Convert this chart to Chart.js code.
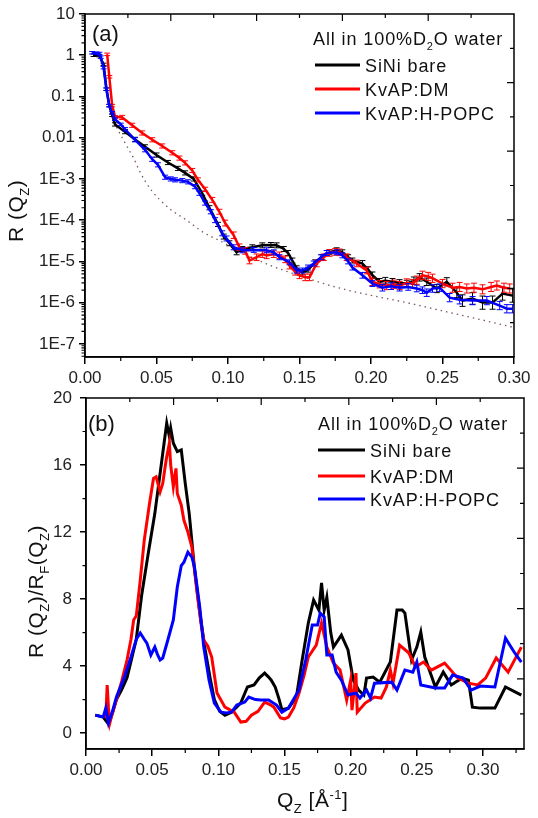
<!DOCTYPE html>
<html>
<head>
<meta charset="utf-8">
<script src="https://cdn.jsdelivr.net/npm/chart.js@4.4.1/dist/chart.umd.min.js"></script>
<style>
  html, body { margin: 0; padding: 0; background: #fff; }
  #wrap { position: relative; width: 538px; height: 818px; overflow: hidden; }
  canvas { position: absolute; left: 0; }
  #chartA { top: 0; }
  #chartB { top: 380px; }
</style>
</head>
<body>
<div id="wrap">
  <canvas id="chartA" width="538" height="392"></canvas>
  <canvas id="chartB" width="538" height="438"></canvas>
</div>
<script>
// ---- panel (a): R(Qz), log scale, with error bars (half length in decades) ----
const qBareA = [0.006,0.010,0.013,0.015,0.017,0.019,0.021,0.028,0.035,0.042,0.050,0.058,0.065,0.070,0.076,0.082,0.087,0.093,0.097,0.101,0.106,0.110,0.117,0.124,0.130,0.134,0.139,0.142,0.145,0.148,0.152,0.156,0.161,0.166,0.171,0.176,0.180,0.184,0.187,0.194,0.198,0.201,0.206,0.210,0.215,0.220,0.225,0.230,0.234,0.239,0.246,0.253,0.260,0.264,0.271,0.278,0.285,0.292,0.299];
const rBareA = [1.0,0.98,0.6,0.15,0.06,0.035,0.021,0.014,0.0091,0.0060,0.0038,0.0025,0.0018,0.0014,0.0010,4.5e-4,2.0e-4,7.9e-5,4.0e-5,2.75e-5,1.66e-5,2.0e-5,2.2e-5,2.45e-5,2.5e-5,2.45e-5,2.0e-5,1.6e-5,1.05e-5,6.8e-6,5.4e-6,6.3e-6,9.5e-6,1.26e-5,1.66e-5,1.86e-5,1.66e-5,1.26e-5,1.05e-5,8.9e-6,6.3e-6,4.6e-6,3.2e-6,3.4e-6,3.2e-6,3.0e-6,2.9e-6,3.4e-6,4.1e-6,3.2e-6,2.2e-6,3.2e-6,1.74e-6,1.12e-6,1.26e-6,1.0e-6,1.0e-6,1.66e-6,1.48e-6];
const eBareA = [0.03,0.03,0.03,0.03,0.03,0.03,0.04,0.05,0.05,0.05,0.05,0.05,0.05,0.05,0.05,0.05,0.05,0.05,0.06,0.06,0.06,0.06,0.06,0.06,0.06,0.06,0.06,0.06,0.06,0.06,0.06,0.06,0.06,0.06,0.06,0.06,0.06,0.06,0.06,0.07,0.07,0.08,0.08,0.08,0.08,0.08,0.08,0.09,0.09,0.09,0.1,0.1,0.12,0.14,0.14,0.16,0.16,0.16,0.16];

const qDmA = [0.0155,0.017,0.019,0.021,0.026,0.033,0.040,0.047,0.054,0.061,0.066,0.070,0.075,0.079,0.084,0.089,0.094,0.098,0.104,0.108,0.112,0.115,0.120,0.124,0.127,0.132,0.136,0.140,0.143,0.147,0.150,0.154,0.157,0.162,0.167,0.171,0.175,0.178,0.183,0.190,0.197,0.201,0.206,0.211,0.216,0.220,0.225,0.229,0.232,0.236,0.240,0.243,0.250,0.257,0.262,0.267,0.272,0.278,0.284,0.288,0.293,0.297];
const rDmA = [1.05,0.3,0.06,0.032,0.031,0.020,0.013,8.9e-3,6.3e-3,4.3e-3,3.2e-3,2.45e-3,1.6e-3,9.5e-4,5.6e-4,3.1e-4,1.6e-4,8.5e-5,4.3e-5,2.2e-5,1.8e-5,1.05e-5,1.26e-5,1.5e-5,1.4e-5,1.5e-5,1.4e-5,1.12e-5,7.9e-6,5.6e-6,4.6e-6,4.1e-6,4.1e-6,8.9e-6,1.26e-5,1.6e-5,1.7e-5,1.66e-5,1.26e-5,8.9e-6,6.0e-6,3.2e-6,2.8e-6,2.6e-6,2.8e-6,2.6e-6,3.0e-6,2.9e-6,3.5e-6,4.6e-6,4.3e-6,3.9e-6,2.9e-6,2.3e-6,2.4e-6,2.2e-6,2.3e-6,2.1e-6,2.4e-6,2.6e-6,2.3e-6,2.2e-6];
const eDmA = [0.03,0.03,0.03,0.03,0.05,0.05,0.05,0.05,0.05,0.05,0.05,0.05,0.05,0.05,0.05,0.06,0.06,0.07,0.08,0.08,0.08,0.08,0.08,0.08,0.08,0.08,0.08,0.08,0.08,0.08,0.08,0.08,0.08,0.08,0.08,0.08,0.08,0.08,0.08,0.08,0.08,0.09,0.09,0.1,0.1,0.1,0.1,0.1,0.1,0.1,0.1,0.1,0.1,0.11,0.11,0.11,0.11,0.11,0.11,0.11,0.11,0.11];

const qPopcA = [0.005,0.008,0.010,0.011,0.013,0.015,0.017,0.019,0.021,0.025,0.028,0.035,0.042,0.047,0.051,0.056,0.060,0.063,0.068,0.072,0.077,0.080,0.084,0.088,0.091,0.096,0.099,0.104,0.110,0.118,0.127,0.132,0.136,0.143,0.148,0.152,0.156,0.160,0.165,0.169,0.176,0.180,0.184,0.187,0.194,0.201,0.208,0.214,0.220,0.226,0.232,0.236,0.239,0.243,0.248,0.255,0.262,0.271,0.281,0.290,0.295,0.299];
const rPopcA = [1.15,1.12,1.1,0.9,0.5,0.15,0.06,0.04,0.028,0.021,0.016,8.9e-3,5.1e-3,3.0e-3,2.2e-3,1.1e-3,1.0e-3,9.5e-4,9.1e-4,8.5e-4,6.5e-4,4.5e-4,2.6e-4,1.6e-4,1.0e-4,4.8e-5,3.6e-5,2.2e-5,1.86e-5,1.9e-5,1.86e-5,1.66e-5,1.26e-5,9.5e-6,6.0e-6,6.0e-6,7.1e-6,8.9e-6,1.26e-5,1.6e-5,1.66e-5,1.4e-5,1.0e-5,7.1e-6,4.6e-6,2.9e-6,2.3e-6,2.5e-6,2.3e-6,2.4e-6,2.2e-6,2.0e-6,1.74e-6,2.2e-6,2.3e-6,1.32e-6,1.17e-6,1.12e-6,1.12e-6,8.5e-7,7.1e-7,7.1e-7];
const ePopcA = [0.03,0.03,0.03,0.03,0.03,0.03,0.03,0.03,0.03,0.03,0.04,0.05,0.05,0.05,0.05,0.05,0.05,0.05,0.05,0.05,0.05,0.05,0.05,0.05,0.06,0.06,0.06,0.06,0.06,0.06,0.06,0.06,0.06,0.06,0.06,0.06,0.06,0.06,0.06,0.06,0.06,0.06,0.06,0.06,0.07,0.07,0.08,0.08,0.08,0.08,0.08,0.08,0.09,0.09,0.09,0.1,0.1,0.1,0.1,0.1,0.1,0.1];

// Fresnel reflectivity (dotted)
const qFresA = [0.022,0.026,0.030,0.034,0.038,0.042,0.047,0.052,0.060,0.071,0.083,0.094,0.110,0.130,0.150,0.175,0.200,0.225,0.250,0.275,0.300];
const rFresA = [1.8e-2,1.0e-2,5.6e-3,3.2e-3,1.6e-3,8.9e-4,5.0e-4,3.2e-4,1.8e-4,1.0e-4,5.0e-5,3.2e-5,1.6e-5,7.9e-6,4.5e-6,2.4e-6,1.5e-6,1.0e-6,6.3e-7,4.0e-7,2.5e-7];

const xTicksA = [0, 0.05, 0.10, 0.15, 0.20, 0.25, 0.30];
const yTicksA = [1e-7, 1e-6, 1e-5, 1e-4, 1e-3, 0.01, 0.1, 1, 10];
const yTickLabelsA = ['1E-7', '1E-6', '1E-5', '1E-4', '1E-3', '0.01', '0.1', '1', '10'];

// ---- panel (b): R(Qz)/RF(Qz), linear ----
const qBareB = [0.007,0.013,0.017,0.020,0.023,0.027,0.031,0.035,0.038,0.042,0.047,0.052,0.056,0.059,0.061,0.063,0.064,0.066,0.069,0.072,0.075,0.078,0.082,0.086,0.090,0.094,0.097,0.101,0.105,0.110,0.117,0.122,0.127,0.131,0.135,0.138,0.140,0.143,0.146,0.148,0.153,0.159,0.163,0.168,0.172,0.176,0.178,0.180,0.182,0.185,0.187,0.193,0.198,0.202,0.206,0.210,0.212,0.217,0.222,0.230,0.235,0.239,0.241,0.246,0.250,0.253,0.256,0.264,0.270,0.276,0.284,0.289,0.292,0.298,0.309,0.317,0.329];
const vBareB = [1.07,0.96,0.54,1.2,2.0,2.6,3.3,4.6,5.6,8.2,10.7,13.1,15.5,17.3,18.5,17.7,18.2,17.3,16.8,16.9,14.9,13.1,9.8,7.2,5.0,3.2,2.0,1.3,1.07,1.25,1.8,2.75,2.87,3.3,3.58,3.34,3.16,2.75,2.0,1.4,1.49,2.15,4.18,6.57,7.94,7.34,8.96,7.34,8.1,5.97,5.13,5.85,4.96,3.16,2.57,2.27,3.28,3.34,3.04,4.24,7.34,7.34,7.16,4.36,5.13,6.03,4.54,2.75,3.64,2.87,3.28,3.16,1.55,1.49,1.49,2.75,2.27];

const qDmB = [0.013,0.015,0.016,0.017,0.018,0.020,0.023,0.027,0.031,0.034,0.036,0.038,0.041,0.044,0.048,0.051,0.053,0.056,0.058,0.060,0.061,0.063,0.064,0.066,0.068,0.069,0.072,0.074,0.077,0.080,0.084,0.087,0.089,0.092,0.095,0.099,0.105,0.112,0.117,0.121,0.125,0.130,0.135,0.139,0.142,0.147,0.150,0.153,0.157,0.161,0.165,0.168,0.174,0.178,0.182,0.187,0.192,0.197,0.200,0.201,0.204,0.205,0.211,0.218,0.223,0.227,0.230,0.232,0.237,0.244,0.249,0.255,0.261,0.271,0.281,0.289,0.296,0.302,0.310,0.319,0.329];
const vDmB = [1.0,1.0,2.87,1.5,0.6,1.2,2.0,3.1,4.36,5.6,6.75,7.0,9.13,11.5,13.7,15.2,15.3,14.4,14.9,16.0,16.5,17.3,16.0,14.7,15.8,14.3,13.6,12.7,12.0,11.1,8.36,6.5,5.55,5.2,4.54,2.39,1.55,1.25,0.66,0.7,1.07,1.3,1.85,1.7,1.55,0.9,0.85,0.96,1.5,2.39,3.5,4.54,5.25,6.57,5.13,4.18,3.76,1.97,3.16,1.37,3.58,1.25,1.79,2.15,2.09,2.75,3.76,2.98,5.25,4.78,3.94,4.24,3.76,4.18,3.28,2.98,2.87,3.28,4.48,3.64,5.13];

const qPopcB = [0.007,0.013,0.015,0.017,0.020,0.023,0.029,0.034,0.038,0.041,0.044,0.046,0.049,0.052,0.054,0.056,0.058,0.062,0.066,0.069,0.072,0.074,0.077,0.080,0.082,0.086,0.089,0.093,0.097,0.102,0.106,0.110,0.114,0.120,0.123,0.128,0.132,0.138,0.144,0.148,0.153,0.161,0.166,0.171,0.175,0.177,0.180,0.182,0.186,0.189,0.193,0.198,0.204,0.207,0.212,0.215,0.218,0.231,0.235,0.241,0.247,0.250,0.253,0.264,0.271,0.277,0.285,0.291,0.298,0.309,0.317,0.324,0.329];
const vPopcB = [1.07,0.96,1.49,0.6,1.3,2.15,3.34,4.54,5.6,5.97,5.6,5.37,4.66,5.13,4.7,4.36,4.48,5.6,6.75,8.72,10.0,10.2,10.8,10.5,9.9,7.5,5.13,3.16,1.79,1.25,1.2,1.25,1.67,1.85,2.15,2.0,1.97,1.97,1.67,1.25,1.49,2.57,4.36,6.45,6.45,7.16,6.93,4.66,4.66,3.64,3.16,2.27,2.39,2.09,2.57,2.09,2.98,3.04,2.57,3.76,3.64,4.24,2.87,2.69,2.69,3.46,3.28,2.57,2.81,2.75,5.67,4.78,4.24];

const xTicksB = [0, 0.05, 0.10, 0.15, 0.20, 0.25, 0.30];
const yTicksB = [0, 4, 8, 12, 16, 20];

const seriesNames = ['SiNi bare', 'KvAP:DM', 'KvAP:H-POPC'];
const seriesColors = ['#000000', '#ff0000', '#0000ff'];

const FONT = '"Liberation Sans", Arial, sans-serif';

function pts(q, v) {
  return q.map((x, i) => ({ x: x, y: v[i] }));
}

// draw text made of pieces: [text, 0 normal | 1 subscript | 2 superscript]
function drawRich(ctx, parts, x, y, size, spacing) {
  let cx = x;
  ctx.letterSpacing = (spacing || 0) + 'px';
  parts.forEach(([t, m]) => {
    const fs = m ? Math.round(size * 0.62) : size;
    ctx.font = fs + 'px ' + FONT;
    const dy = m === 1 ? size * 0.3 : (m === 2 ? -size * 0.4 : 0);
    ctx.fillText(t, cx, y + dy);
    cx += ctx.measureText(t).width;
  });
  ctx.letterSpacing = '0px';
  return cx - x;
}

const deco = {
  id: 'deco',
  afterDatasetDraw(chart, args) {
    const ds = chart.data.datasets[args.index];
    if (!ds.errLog) return;
    const { ctx, chartArea: a } = chart;
    const ys = chart.scales.y;
    ctx.save();
    ctx.beginPath();
    ctx.rect(a.left, a.top, a.right - a.left, a.bottom - a.top);
    ctx.clip();
    ctx.strokeStyle = ds.borderColor;
    ctx.lineWidth = 1;
    ctx.beginPath();
    args.meta.data.forEach((el, i) => {
      const v = ds.data[i].y, e = ds.errLog[i];
      const y1 = ys.getPixelForValue(v * Math.pow(10, e));
      const y2 = ys.getPixelForValue(v / Math.pow(10, e));
      ctx.moveTo(el.x, y1); ctx.lineTo(el.x, y2);
      ctx.moveTo(el.x - 3, y1); ctx.lineTo(el.x + 3, y1);
      ctx.moveTo(el.x - 3, y2); ctx.lineTo(el.x + 3, y2);
    });
    ctx.stroke();
    ctx.restore();
  },
  afterDraw(chart, args, o) {
    const { ctx, chartArea: a, scales } = chart;
    ctx.save();
    // frame
    ctx.strokeStyle = '#000';
    ctx.lineWidth = 1.5;
    ctx.strokeRect(a.left, a.top, a.right - a.left, a.bottom - a.top);
    // minor ticks (outside), inner ticks on top and right
    ctx.lineWidth = 1.2;
    ctx.beginPath();
    o.minorX.forEach(v => {
      const x = scales.x.getPixelForValue(v);
      ctx.moveTo(x, a.bottom); ctx.lineTo(x, a.bottom + 4);
    });
    o.minorY.forEach(v => {
      const y = scales.y.getPixelForValue(v);
      ctx.moveTo(a.left, y); ctx.lineTo(a.left - 3.5, y);
    });
    for (let i = 1; i < 10; i++) {
      const len = i % 2 ? 4 : 7;
      const x = scales.x2.getPixelForValue(i);
      ctx.moveTo(x, a.top); ctx.lineTo(x, a.top + len);
      const y = scales.y2.getPixelForValue(i);
      ctx.moveTo(a.right, y); ctx.lineTo(a.right - len, y);
    }
    ctx.stroke();

    ctx.fillStyle = '#111';
    ctx.textAlign = 'left';
    ctx.textBaseline = 'alphabetic';
    // panel letter
    drawRich(ctx, [[o.panel, 0]], o.panelX, o.panelY, 22);
    // legend
    drawRich(ctx, [['All in 100%D', 0], ['2', 1], ['O water', 0]], o.legX, o.legY, 18, 0.9);
    seriesNames.forEach((name, i) => {
      const y = o.legLines[i];
      ctx.strokeStyle = seriesColors[i];
      ctx.lineWidth = 3;
      ctx.beginPath();
      ctx.moveTo(o.legLineX[0], y); ctx.lineTo(o.legLineX[1], y);
      ctx.stroke();
      drawRich(ctx, [[name, 0]], o.legLineX[1] + 5, y + 7, 18, 0.9);
    });
    // y axis title
    ctx.save();
    ctx.translate(o.yTitle[0], o.yTitle[1]);
    ctx.rotate(-Math.PI / 2);
    drawRich(ctx, o.yTitleParts, 0, 0, 21, 0.5);
    ctx.restore();
    // x axis title
    if (o.xTitleParts) drawRich(ctx, o.xTitleParts, o.xTitle[0], o.xTitle[1], 21, 0.5);
    ctx.restore();
  }
};

const tickFont = { family: FONT, size: 17 };

function xAxis(max, ticksArr, h) {
  return {
    type: 'linear', position: 'bottom', min: 0, max: max,
    afterBuildTicks: s => { s.ticks = ticksArr.map(v => ({ value: v })); },
    afterFit: s => { s.height = h; s.paddingLeft = 0; s.paddingRight = 0; },
    ticks: { callback: v => v.toFixed(2), font: tickFont, color: '#222', padding: 4, maxRotation: 0, autoSkip: false },
    grid: { drawOnChartArea: false, tickLength: 7, color: '#000', lineWidth: 1.5 },
    border: { display: true, color: '#000', width: 1.5 }
  };
}

// minor ticks on the log axis: 2..9 in each decade
const minorYA = [];
for (let d = -8; d <= 0; d++) {
  for (let m = 2; m <= 9; m++) {
    const v = m * Math.pow(10, d);
    if (v > 4.8e-8 && v < 10) minorYA.push(v);
  }
}

new Chart(document.getElementById('chartA'), {
  type: 'line',
  data: {
    datasets: [
      { label: seriesNames[2], data: pts(qPopcA, rPopcA), errLog: ePopcA, borderColor: seriesColors[2], borderWidth: 2.5, pointRadius: 0, tension: 0 },
      { label: seriesNames[1], data: pts(qDmA, rDmA), errLog: eDmA, borderColor: seriesColors[1], borderWidth: 2.5, pointRadius: 0, tension: 0 },
      { label: seriesNames[0], data: pts(qBareA, rBareA), errLog: eBareA, borderColor: seriesColors[0], borderWidth: 2.5, pointRadius: 0, tension: 0 },
      { label: 'Fresnel', data: pts(qFresA, rFresA), borderColor: '#7a5a5a', borderWidth: 1.3, borderDash: [1.5, 4], pointRadius: 0, cubicInterpolationMode: 'monotone' }
    ]
  },
  options: {
    responsive: false,
    animation: false,
    parsing: false,
    layout: { padding: { left: 0, top: 14, right: 24, bottom: 0 } },
    plugins: {
      legend: { display: false },
      tooltip: { enabled: false },
      deco: {
        panel: '(a)', panelX: 92, panelY: 41,
        legX: 313, legY: 45, legLines: [65, 89, 113], legLineX: [315, 360],
        yTitle: [23, 242], yTitleParts: [['R (Q', 0], ['Z', 1], [')', 0]],
        minorX: [0.025, 0.075, 0.125, 0.175, 0.225, 0.275],
        minorY: minorYA
      }
    },
    scales: {
      x: xAxis(0.30, xTicksA, 35),
      y: {
        type: 'logarithmic', min: 4.8e-8, max: 10,
        afterBuildTicks: s => { s.ticks = yTicksA.map(v => ({ value: v })); },
        afterFit: s => { s.width = 85; s.paddingTop = 0; s.paddingBottom = 0; },
        ticks: {
          callback: v => {
            const i = yTicksA.findIndex(t => Math.abs(Math.log10(t) - Math.log10(v)) < 1e-6);
            return i >= 0 ? yTickLabelsA[i] : '';
          },
          font: tickFont, color: '#222', padding: 4, autoSkip: false
        },
        grid: { drawOnChartArea: false, tickLength: 6, color: '#000', lineWidth: 1.5 },
        border: { display: true, color: '#000', width: 1.5 }
      },
      x2: { type: 'linear', position: 'top', min: 0, max: 10, display: false },
      y2: { type: 'linear', position: 'right', min: 0, max: 10, display: false }
    }
  },
  plugins: [deco]
});

new Chart(document.getElementById('chartB'), {
  type: 'line',
  data: {
    datasets: [
      { label: seriesNames[2], data: pts(qPopcB, vPopcB), borderColor: seriesColors[2], borderWidth: 3, pointRadius: 0, tension: 0 },
      { label: seriesNames[1], data: pts(qDmB, vDmB), borderColor: seriesColors[1], borderWidth: 3, pointRadius: 0, tension: 0 },
      { label: seriesNames[0], data: pts(qBareB, vBareB), borderColor: seriesColors[0], borderWidth: 3, pointRadius: 0, tension: 0 }
    ]
  },
  options: {
    responsive: false,
    animation: false,
    parsing: false,
    layout: { padding: { left: 0, top: 18, right: 14, bottom: 0 } },
    plugins: {
      legend: { display: false },
      tooltip: { enabled: false },
      deco: {
        panel: '(b)', panelX: 88, panelY: 51,
        legX: 318, legY: 50, legLines: [70, 96, 119], legLineX: [318, 365],
        yTitle: [43, 278], yTitleParts: [['R (Q', 0], ['Z', 1], [')/R', 0], ['F', 1], ['(Q', 0], ['Z', 1], [')', 0]],
        xTitle: [277, 427], xTitleParts: [['Q', 0], ['Z', 1], [' [\u00C5', 0], ['-1', 2], [']', 0]],
        minorX: [0.025, 0.075, 0.125, 0.175, 0.225, 0.275, 0.325],
        minorY: [2, 6, 10, 14, 18]
      }
    },
    scales: {
      x: xAxis(0.331, xTicksB, 69),
      y: {
        type: 'linear', min: -0.95, max: 20,
        afterBuildTicks: s => { s.ticks = yTicksB.map(v => ({ value: v })); },
        afterFit: s => { s.width = 86; s.paddingTop = 0; s.paddingBottom = 0; },
        ticks: { font: tickFont, color: '#222', padding: 8, autoSkip: false },
        grid: { drawOnChartArea: false, tickLength: 6, color: '#000', lineWidth: 1.5 },
        border: { display: true, color: '#000', width: 1.5 }
      },
      x2: { type: 'linear', position: 'top', min: 0, max: 10, display: false },
      y2: { type: 'linear', position: 'right', min: 0, max: 10, display: false }
    }
  },
  plugins: [deco]
});
</script>
</body>
</html>
